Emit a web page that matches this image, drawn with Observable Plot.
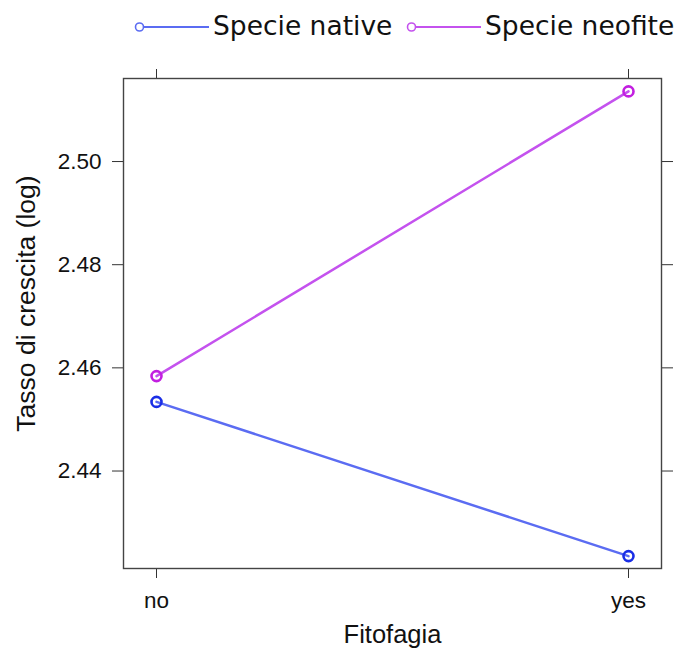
<!DOCTYPE html>
<html>
<head>
<meta charset="utf-8">
<script src="https://cdn.jsdelivr.net/npm/d3@7"></script>
<script src="https://cdn.jsdelivr.net/npm/@observablehq/plot@0.6"></script>
<style>
  html, body { margin: 0; padding: 0; background: #fff; }
  #wrap { width: 677px; height: 650px; position: relative; overflow: hidden; }
  #legend { position: relative; width: 677px; height: 50px; font-family: "DejaVu Sans", Verdana, sans-serif; font-size: 26.5px; color: #111; }
  .item { position: absolute; top: 0; height: 50px; }
  .item svg { position: absolute; top: 0; }
  .item span { position: absolute; top: 8px; white-space: nowrap; line-height: 36px; }
  #chart svg { display: block; }
</style>
</head>
<body>
<div id="wrap">
  <div id="legend"></div>
  <div id="chart"></div>
</div>
<script>
// ---- data ----
const categories = ["no", "yes"];
const seriesNames = ["Specie native", "Specie neofite"];
const nativeValues = [2.4534, 2.4235];
const neofiteValues = [2.4584, 2.5136];
const yTicks = [2.44, 2.46, 2.48, 2.50];

// ---- styles ----
const lineColors = ["#5b6cf2", "#c452ee"];
const pointColors = ["#1a2ee6", "#c21fe0"];

const rows = [];
categories.forEach((c, i) => {
  rows.push({cat: c, value: nativeValues[i], series: seriesNames[0]});
  rows.push({cat: c, value: neofiteValues[i], series: seriesNames[1]});
});
const pointColorOf = s => pointColors[seriesNames.indexOf(s)];

// ---- legend ----
const legend = document.getElementById("legend");
const legendPos = [{left: 133, text: 213}, {left: 405, text: 485}];
seriesNames.forEach((name, i) => {
  const item = document.createElement("div");
  item.className = "item";
  item.style.left = legendPos[i].left + "px";
  const w = legendPos[i].text - legendPos[i].left - 4;
  item.innerHTML =
    `<svg width="${w}" height="50"><line x1="10" y1="27" x2="${w}" y2="27" stroke="${lineColors[i]}" stroke-width="2"/>` +
    `<circle cx="6.5" cy="27" r="4" fill="white" stroke="${lineColors[i]}" stroke-width="1.6"/></svg>` +
    `<span style="left:${legendPos[i].text - legendPos[i].left}px">${name}</span>`;
  legend.appendChild(item);
});

// ---- chart ----
const chart = Plot.plot({
  width: 677,
  height: 600,
  marginTop: 28,
  marginBottom: 82,
  marginLeft: 123,
  marginRight: 16,
  style: {fontFamily: "'Liberation Sans', Arial, sans-serif", fontSize: "22px", color: "#111", background: "white"},
  x: {type: "point", domain: categories, padding: 0.069},
  y: {domain: [2.4211, 2.5161]},
  color: {domain: seriesNames, range: lineColors},
  marks: [
    Plot.axisY(yTicks, {anchor: "left", tickSize: 11, tickPadding: 11, fontSize: 22.5, tickFormat: d3.format(".2f"), label: null, stroke: "#333"}),
    Plot.axisY(yTicks, {anchor: "right", tickSize: 11, text: null, label: null, stroke: "#333"}),
    Plot.axisX({anchor: "bottom", tickSize: 10, tickPadding: 14, fontSize: 22.5, label: null, stroke: "#333"}),
    Plot.axisX({anchor: "top", tickSize: 10, text: null, label: null, stroke: "#333"}),
    Plot.line(rows, {x: "cat", y: "value", z: "series", stroke: "series", strokeWidth: 2.5}),
    Plot.dot(rows, {x: "cat", y: "value", r: 5, stroke: d => pointColorOf(d.series), strokeWidth: 2.6, fill: "none"}),
    Plot.frame({stroke: "#444", strokeWidth: 1.4}),
    Plot.text(["Tasso di crescita (log)"], {frameAnchor: "left", textAnchor: "middle", rotate: -90, dx: -97, dy: -20, fontSize: 26.5, fill: "#111", lineAnchor: "middle"}),
    Plot.text(["Fitofagia"], {frameAnchor: "bottom", textAnchor: "middle", dy: 66, fontSize: 25.5, fill: "#111", lineAnchor: "middle"})
  ]
});
document.getElementById("chart").appendChild(chart);
</script>
</body>
</html>
